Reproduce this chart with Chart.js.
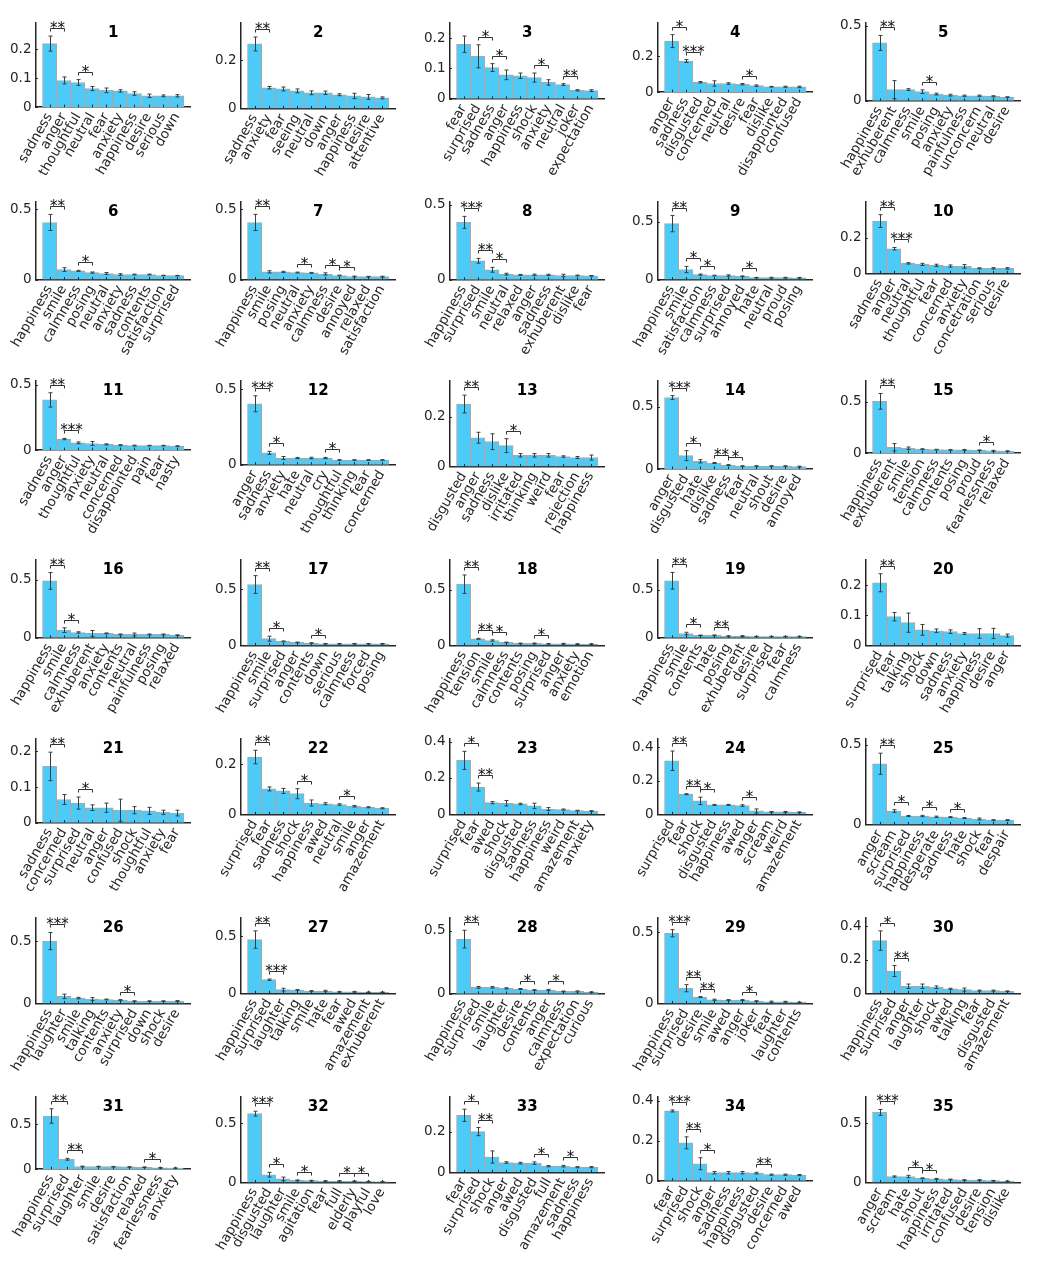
<!DOCTYPE html>
<html>
<head>
<meta charset="utf-8">
<script src="https://cdn.jsdelivr.net/npm/chart.js@4.4.1/dist/chart.umd.min.js"></script>
<style>
  body { margin: 0; background: #fff; }
  #grid { position: relative; width: 1049px; height: 1267px; }
  .cell { position: absolute; }
</style>
</head>
<body>
<div id="grid"></div>
<script>
// one entry per panel, panels 1..35
const labels = [
  ['sadness','anger','thoughtful','neutral','fear','anxiety','happiness','desire','serious','down'],
  ['sadness','anxiety','fear','seeing','neutral','down','anger','happiness','desire','attentive'],
  ['fear','surprised','sadness','anger','happiness','shock','anxiety','neutral','joker','expectation'],
  ['anger','sadness','disgusted','concerned','neutral','desire','fear','dislike','disappointed','confused'],
  ['happiness','exhuberent','calmness','smile','posing','anxiety','painfulness','unconcern','neutral','desire'],
  ['happiness','smile','calmness','posing','neutral','anxiety','sadness','contents','satisfaction','surprised'],
  ['happiness','smile','posing','neutral','anxiety','calmness','desire','annoyed','relaxed','satisfaction'],
  ['happiness','surprised','smile','neutral','relaxed','anger','sadness','exhuberent','dislike','fear'],
  ['happiness','smile','satisfaction','calmness','surprised','annoyed','hate','neutral','proud','posing'],
  ['sadness','anger','neutral','thoughtful','fear','concerned','anxiety','concetration','serious','desire'],
  ['sadness','anger','thoughtful','anxiety','neutral','concerned','disappointed','pain','fear','nasty'],
  ['anger','sadness','anxiety','hate','neutral','cry','thoughtful','thinking','fear','concerned'],
  ['disgusted','anger','sadness','dislike','irritated','thinking','weird','fear','rejection','happiness'],
  ['anger','disgusted','hate','dislike','sadness','fear','neutral','shout','desire','annoyed'],
  ['happiness','exhuberent','smile','tension','calmness','contents','posing','proud','fearlessness','relaxed'],
  ['happiness','smile','calmness','exhuberent','anxiety','contents','neutral','painfulness','posing','relaxed'],
  ['happiness','smile','surprised','anger','contents','down','serious','calmness','forced','posing'],
  ['happiness','tension','smile','calmness','contents','posing','surprised','anger','anxiety','emotion'],
  ['happiness','smile','contents','hate','posing','exhuberent','desire','surprised','fear','calmness'],
  ['surprised','fear','talking','shock','down','sadness','anxiety','happiness','desire','anger'],
  ['sadness','concerned','surprised','neutral','anger','confused','shock','thoughtful','anxiety','fear'],
  ['surprised','fear','sadness','shock','happiness','awed','neutral','smile','anger','amazement'],
  ['surprised','fear','awed','shock','disgusted','sadness','happiness','weird','amazement','anxiety'],
  ['surprised','fear','shock','disgusted','happiness','awed','anger','scream','weird','amazement'],
  ['anger','scream','surprised','happiness','desperate','sadness','hate','shock','fear','despair'],
  ['happiness','laughter','smile','talking','contents','anxiety','surprised','down','shock','desire'],
  ['happiness','surprised','laughter','talking','smile','hate','fear','awed','amazement','exhuberent'],
  ['happiness','surprised','smile','laughter','desire','contents','anger','calmness','expectation','curious'],
  ['happiness','surprised','desire','smile','awed','anger','joker','fear','laughter','contents'],
  ['happiness','surprised','anger','laughter','shock','awed','talking','fear','disgusted','amazement'],
  ['happiness','surprised','laughter','smile','desire','satisfaction','relaxed','fearlessness','anxiety'],
  ['happiness','disgusted','laughter','smile','agitation','fear','full','elderly','playful','love'],
  ['fear','surprised','shock','anger','awed','disgusted','full','amazement','sadness','happiness'],
  ['fear','surprised','shock','anger','sadness','happiness','disgusted','desire','concerned','awed'],
  ['anger','scream','hate','shout','happiness','irritated','confused','desire','tension','dislike']
];

const values = [
  [0.219,0.092,0.085,0.064,0.058,0.056,0.047,0.039,0.039,0.039],
  [0.268,0.086,0.081,0.073,0.065,0.065,0.057,0.052,0.048,0.044],
  [0.18,0.14,0.103,0.079,0.076,0.07,0.054,0.047,0.028,0.027],
  [0.284,0.173,0.055,0.048,0.048,0.044,0.036,0.03,0.03,0.029],
  [0.387,0.075,0.075,0.061,0.045,0.038,0.034,0.034,0.03,0.025],
  [0.405,0.071,0.062,0.05,0.043,0.036,0.036,0.036,0.029,0.028],
  [0.405,0.055,0.055,0.05,0.048,0.04,0.029,0.022,0.021,0.021],
  [0.384,0.127,0.067,0.038,0.033,0.033,0.033,0.029,0.029,0.027],
  [0.483,0.087,0.043,0.035,0.035,0.029,0.017,0.017,0.017,0.016],
  [0.293,0.138,0.056,0.05,0.045,0.041,0.039,0.028,0.028,0.028],
  [0.385,0.085,0.056,0.051,0.044,0.038,0.035,0.035,0.035,0.031],
  [0.404,0.078,0.044,0.044,0.044,0.044,0.031,0.031,0.031,0.031],
  [0.252,0.116,0.1,0.084,0.045,0.045,0.045,0.04,0.036,0.036],
  [0.573,0.107,0.062,0.048,0.032,0.024,0.024,0.024,0.024,0.019],
  [0.503,0.058,0.048,0.039,0.035,0.032,0.032,0.029,0.023,0.02],
  [0.49,0.066,0.046,0.038,0.038,0.029,0.029,0.029,0.029,0.023],
  [0.542,0.06,0.036,0.027,0.021,0.015,0.015,0.015,0.015,0.015],
  [0.552,0.06,0.045,0.027,0.018,0.018,0.015,0.015,0.012,0.012],
  [0.594,0.045,0.026,0.026,0.018,0.018,0.014,0.014,0.014,0.014],
  [0.209,0.096,0.076,0.052,0.049,0.046,0.04,0.04,0.04,0.033],
  [0.158,0.065,0.055,0.042,0.042,0.035,0.035,0.033,0.029,0.027],
  [0.228,0.101,0.093,0.082,0.045,0.042,0.039,0.032,0.028,0.024],
  [0.297,0.15,0.064,0.061,0.057,0.046,0.029,0.026,0.02,0.018],
  [0.32,0.12,0.08,0.056,0.056,0.052,0.02,0.014,0.014,0.012],
  [0.38,0.084,0.053,0.053,0.048,0.046,0.04,0.034,0.027,0.027],
  [0.5,0.057,0.043,0.035,0.032,0.027,0.019,0.019,0.019,0.019],
  [0.471,0.119,0.032,0.029,0.02,0.02,0.012,0.012,0.009,0.009],
  [0.433,0.051,0.051,0.043,0.038,0.03,0.03,0.019,0.019,0.013],
  [0.493,0.107,0.045,0.026,0.024,0.024,0.017,0.012,0.012,0.008],
  [0.315,0.133,0.042,0.042,0.036,0.026,0.022,0.016,0.016,0.012],
  [0.59,0.11,0.03,0.03,0.028,0.025,0.022,0.015,0.012],
  [0.58,0.065,0.03,0.018,0.015,0.012,0.012,0.01,0.007,0.005],
  [0.28,0.2,0.075,0.048,0.045,0.045,0.03,0.03,0.025,0.025],
  [0.35,0.19,0.085,0.04,0.04,0.04,0.038,0.03,0.03,0.028],
  [0.59,0.05,0.05,0.035,0.03,0.025,0.02,0.02,0.015,0.01]
];

const errors = [
  [0.026,0.012,0.01,0.007,0.008,0.004,0.006,0.006,0.003,0.004],
  [0.029,0.005,0.008,0.008,0.008,0.007,0.004,0.011,0.01,0.004],
  [0.027,0.038,0.013,0.016,0.009,0.015,0.009,0.003,0.002,0.003],
  [0.036,0.008,0.004,0.015,0.004,0.004,0.004,0.002,0.003,0.004],
  [0.05,0.06,0.006,0.012,0.006,0.006,0.004,0.004,0.004,0.002],
  [0.057,0.013,0.004,0.004,0.007,0.006,0.003,0.003,0.002,0.002],
  [0.057,0.008,0.004,0.003,0.003,0.008,0.003,0.003,0.002,0.003],
  [0.04,0.016,0.016,0.006,0.003,0.005,0.004,0.008,0.003,0.002],
  [0.07,0.027,0.005,0.003,0.006,0.003,0.002,0.003,0.003,0.003],
  [0.036,0.007,0.004,0.006,0.006,0.006,0.01,0.003,0.004,0.004],
  [0.055,0.005,0.007,0.015,0.004,0.004,0.003,0.002,0.002,0.002],
  [0.053,0.01,0.01,0.004,0.005,0.004,0.002,0.002,0.002,0.002],
  [0.036,0.022,0.032,0.028,0.007,0.007,0.007,0.003,0.004,0.01],
  [0.015,0.04,0.013,0.004,0.003,0.002,0.002,0.002,0.002,0.004],
  [0.076,0.035,0.012,0.004,0.003,0.003,0.005,0.003,0.005,0.003],
  [0.072,0.02,0.006,0.025,0.004,0.004,0.012,0.004,0.004,0.003],
  [0.079,0.022,0.004,0.003,0.003,0.002,0.002,0.002,0.002,0.002],
  [0.083,0.004,0.006,0.003,0.003,0.004,0.002,0.004,0.003,0.003],
  [0.087,0.013,0.003,0.004,0.002,0.004,0.002,0.002,0.002,0.002],
  [0.03,0.014,0.032,0.018,0.006,0.006,0.003,0.016,0.017,0.005],
  [0.04,0.014,0.017,0.008,0.013,0.031,0.01,0.01,0.006,0.008],
  [0.027,0.008,0.01,0.02,0.012,0.004,0.003,0.003,0.002,0.002],
  [0.05,0.022,0.006,0.015,0.004,0.015,0.008,0.003,0.002,0.002],
  [0.058,0.003,0.022,0.003,0.003,0.005,0.012,0.002,0.003,0.002],
  [0.066,0.008,0.003,0.004,0.004,0.003,0.003,0.006,0.003,0.003],
  [0.069,0.018,0.006,0.012,0.003,0.004,0.002,0.002,0.002,0.004],
  [0.076,0.006,0.012,0.003,0.003,0.006,0.002,0.002,0.002,0.002],
  [0.07,0.007,0.006,0.005,0.004,0.003,0.005,0.003,0.004,0.003],
  [0.025,0.025,0.003,0.004,0.003,0.003,0.002,0.004,0.003,0.002],
  [0.058,0.033,0.013,0.013,0.008,0.004,0.009,0.003,0.003,0.002],
  [0.08,0.01,0.004,0.003,0.003,0.003,0.003,0.004,0.003],
  [0.02,0.02,0.015,0.003,0.003,0.002,0.002,0.003,0.002,0.002],
  [0.03,0.02,0.03,0.004,0.004,0.006,0.003,0.004,0.003,0.003],
  [0.005,0.03,0.03,0.006,0.006,0.006,0.004,0.003,0.003,0.003],
  [0.025,0.005,0.01,0.004,0.004,0.003,0.003,0.003,0.002,0.002]
];

// significance brackets: [left bar index, stars]
const signif = [
  [[0,'**'],[2,'*']],
  [[0,'**']],
  [[1,'*'],[2,'*'],[5,'*'],[7,'**']],
  [[0,'*'],[1,'***'],[5,'*']],
  [[0,'**'],[3,'*']],
  [[0,'**'],[2,'*']],
  [[0,'**'],[3,'*'],[5,'*'],[6,'*']],
  [[0,'***'],[1,'**'],[2,'*']],
  [[0,'**'],[1,'*'],[2,'*'],[5,'*']],
  [[0,'**'],[1,'***']],
  [[0,'**'],[1,'***']],
  [[0,'***'],[1,'*'],[5,'*']],
  [[0,'**'],[3,'*']],
  [[0,'***'],[1,'*'],[3,'**'],[4,'*']],
  [[0,'**'],[7,'*']],
  [[0,'**'],[1,'*']],
  [[0,'**'],[1,'*'],[4,'*']],
  [[0,'**'],[1,'**'],[2,'*'],[5,'*']],
  [[0,'**'],[1,'*'],[3,'**']],
  [[0,'**']],
  [[0,'**'],[2,'*']],
  [[0,'**'],[3,'*'],[6,'*']],
  [[0,'*'],[1,'**']],
  [[0,'**'],[1,'**'],[2,'*'],[5,'*']],
  [[0,'**'],[1,'*'],[3,'*'],[5,'*']],
  [[0,'***'],[5,'*']],
  [[0,'**'],[1,'***']],
  [[0,'**'],[4,'*'],[6,'*']],
  [[0,'***'],[1,'**'],[2,'**'],[5,'*']],
  [[0,'*'],[1,'**']],
  [[0,'**'],[1,'**'],[6,'*']],
  [[0,'***'],[1,'*'],[3,'*'],[6,'*'],[7,'*']],
  [[0,'*'],[1,'**'],[5,'*'],[7,'*']],
  [[0,'***'],[1,'**'],[2,'*'],[6,'**']],
  [[0,'***'],[2,'*'],[3,'*']]
];

const yMax = [0.29,0.355,0.25,0.385,0.52, 0.55,0.55,0.52,0.67,0.4,
              0.53,0.555,0.345,0.705,0.7, 0.67,0.76,0.77,0.81,0.285,
              0.235,0.3,0.415,0.45,0.535, 0.685,0.66,0.6,0.6,0.45,
              0.8,0.72,0.37,0.42,0.72];

const yTicks = [
  [0,0.1,0.2],[0,0.2],[0,0.1,0.2],[0,0.2],[0,0.5],
  [0,0.5],[0,0.5],[0,0.5],[0,0.5],[0,0.2],
  [0,0.5],[0,0.5],[0,0.2],[0,0.5],[0,0.5],
  [0,0.5],[0,0.5],[0,0.5],[0,0.5],[0,0.1,0.2],
  [0,0.1,0.2],[0,0.2],[0,0.2,0.4],[0,0.2,0.4],[0,0.5],
  [0,0.5],[0,0.5],[0,0.5],[0,0.5],[0,0.2,0.4],
  [0,0.5],[0,0.5],[0,0.2],[0,0.2,0.4],[0,0.5]
];

const COLS = [0, 205, 414, 622, 830];
const CELL_W = 208, CELL_H = 179;
const INK = '#262626';
const FONT = 'DejaVu Sans';
const LABEL_SIZE = 13.5;
const ROT = 60;

// error bars, significance brackets, inner ticks and panel number
const decorations = {
  id: 'decorations',
  afterDatasetsDraw(chart, args, opts) {
    const { ctx, chartArea: a, scales: { x, y } } = chart;
    const n = opts.values.length;
    ctx.save();

    ctx.strokeStyle = INK;
    ctx.lineWidth = 1;
    ctx.beginPath();
    for (let i = 1; i <= n; i++) {
      const px = Math.round(x.getPixelForValue(i)) + 0.5;
      ctx.moveTo(px, a.bottom);
      ctx.lineTo(px, a.bottom - 2.5);
    }
    opts.ticks.forEach(t => {
      const py = Math.round(y.getPixelForValue(t)) + 0.5;
      ctx.moveTo(a.left, py);
      ctx.lineTo(a.left + 2.5, py);
    });
    ctx.stroke();

    const tops = [];
    ctx.strokeStyle = '#3c3c3c';
    ctx.beginPath();
    opts.values.forEach((v, i) => {
      const px = Math.round(x.getPixelForValue(i + 1)) + 0.5;
      const hi = y.getPixelForValue(v + opts.errors[i]);
      const lo = y.getPixelForValue(v - opts.errors[i]);
      tops.push(hi);
      ctx.moveTo(px, hi); ctx.lineTo(px, lo);
      ctx.moveTo(px - 2, hi); ctx.lineTo(px + 2, hi);
      ctx.moveTo(px - 2, lo); ctx.lineTo(px + 2, lo);
    });
    ctx.stroke();

    ctx.strokeStyle = '#333';
    ctx.fillStyle = '#111';
    ctx.font = '15px "' + FONT + '"';
    ctx.textAlign = 'center';
    ctx.textBaseline = 'alphabetic';
    opts.signif.forEach(([i, stars]) => {
      const x1 = Math.round(x.getPixelForValue(i + 1)) + 0.5;
      const x2 = Math.round(x.getPixelForValue(i + 2)) + 0.5;
      const by = Math.round(Math.min(tops[i], tops[i + 1]) - 8) + 0.5;
      ctx.beginPath();
      ctx.moveTo(x1, by + 3); ctx.lineTo(x1, by); ctx.lineTo(x2, by); ctx.lineTo(x2, by + 3);
      ctx.stroke();
      ctx.fillText(stars, (x1 + x2) / 2, by + 4);
    });

    ctx.fillStyle = '#000';
    ctx.font = 'bold 15px "' + FONT + '"';
    ctx.textBaseline = 'middle';
    ctx.fillText(opts.title, (a.left + a.right) / 2, a.top + 10);
    ctx.restore();
  }
};

// room for the longest rotated category label (Chart.js caps it at half the height)
function labelBlockHeight(scale, cats) {
  const ctx = scale.ctx;
  ctx.save();
  ctx.font = LABEL_SIZE + 'px "' + FONT + '"';
  const w = Math.max(...cats.map(c => ctx.measureText(c).width));
  ctx.restore();
  const r = ROT * Math.PI / 180;
  return w * Math.sin(r) + LABEL_SIZE * 1.2 * Math.cos(r) + 3;
}

const grid = document.getElementById('grid');
labels.forEach((cats, k) => {
  const cell = document.createElement('div');
  cell.className = 'cell';
  cell.style.left = COLS[k % 5] + 'px';
  cell.style.top = Math.floor(k / 5) * CELL_H + 'px';
  const canvas = document.createElement('canvas');
  canvas.width = CELL_W;
  canvas.height = CELL_H;
  cell.appendChild(canvas);
  grid.appendChild(cell);

  const tickFont = { family: FONT, size: LABEL_SIZE };
  new Chart(canvas, {
    type: 'bar',
    data: {
      labels: ['', ...cats, ''],
      datasets: [{
        data: [null, ...values[k], null],
        backgroundColor: '#4DCBF8',
        borderColor: '#A8A8A8',
        borderWidth: 1,
        barPercentage: 1,
        categoryPercentage: 1
      }]
    },
    options: {
      responsive: false,
      animation: false,
      events: [],
      layout: { padding: { top: 23, left: 6, right: 1, bottom: 0 } },
      plugins: {
        legend: { display: false },
        tooltip: { enabled: false },
        decorations: {
          values: values[k], errors: errors[k], signif: signif[k],
          ticks: yTicks[k], title: String(k + 1)
        }
      },
      scales: {
        x: {
          offset: false,
          grid: { display: false, drawTicks: false },
          border: { color: INK, width: 1.5 },
          afterFit: s => { s.height = labelBlockHeight(s, cats); },
          ticks: {
            autoSkip: false, minRotation: ROT, maxRotation: ROT,
            padding: 3, color: INK, font: tickFont
          }
        },
        y: {
          min: 0, max: yMax[k],
          grid: { display: false, drawTicks: false },
          border: { color: INK, width: 1.5 },
          afterBuildTicks: s => { s.ticks = yTicks[k].map(v => ({ value: v })); },
          ticks: { padding: 4, color: INK, font: tickFont, callback: v => String(v) }
        }
      }
    },
    plugins: [decorations]
  });
});
</script>
</body>
</html>
